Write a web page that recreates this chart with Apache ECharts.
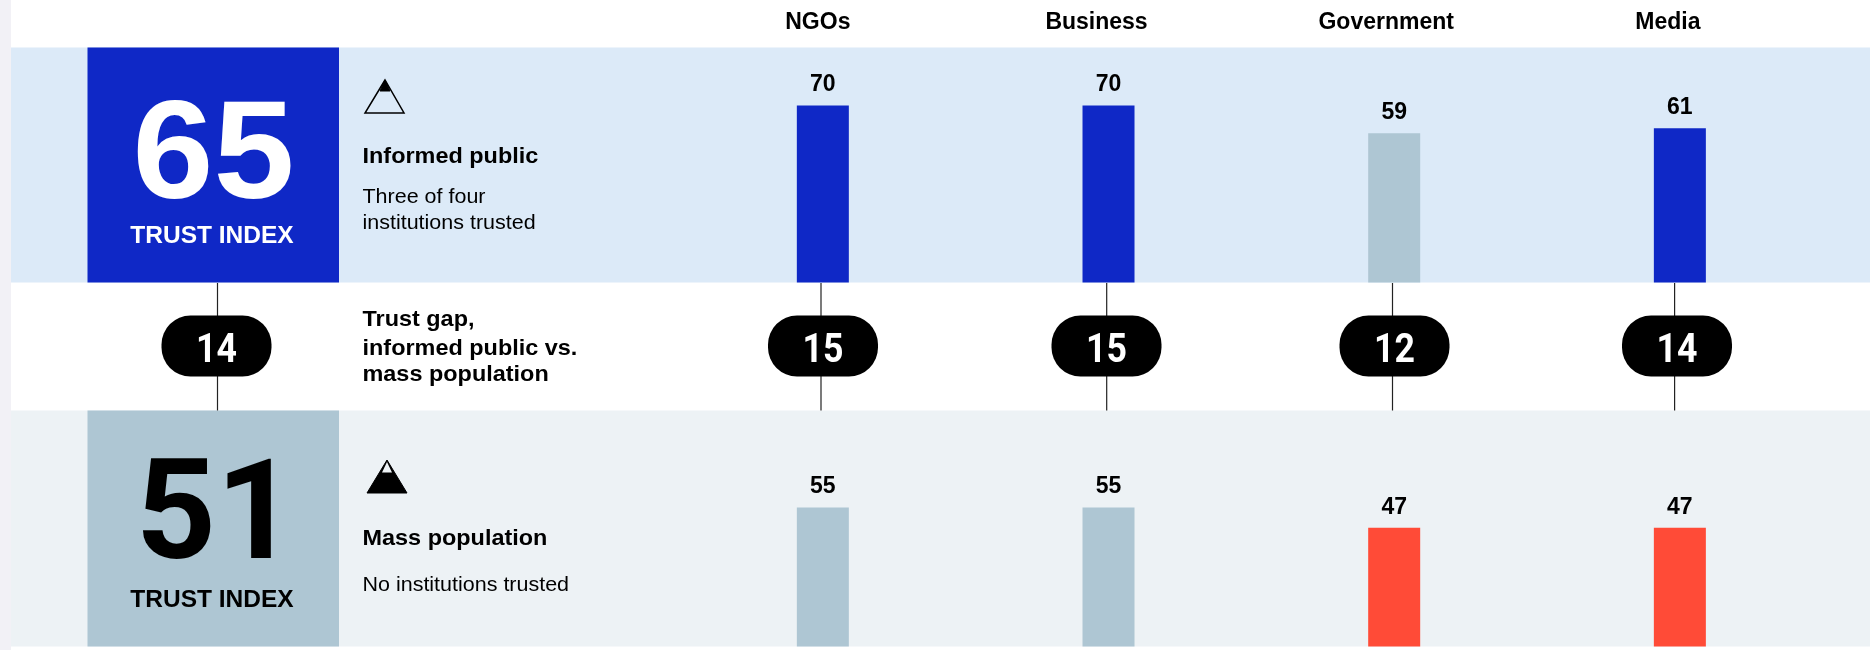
<!DOCTYPE html>
<html>
<head>
<meta charset="utf-8">
<script src="https://cdn.jsdelivr.net/npm/echarts@6/dist/echarts.min.js"></script>
<style>html,body{margin:0;padding:0;background:#fff}#c{width:1870px;height:650px}</style>
</head>
<body>
<div id="c"></div>
<script>
// ---- data ----
const institutions = ['NGOs', 'Business', 'Government', 'Media'];
const informedPublic = [70, 70, 59, 61];
const massPopulation = [55, 55, 47, 47];
const gapLabels = ['14', '15', '15', '12', '14'];
const informedIndex = '65';
const massIndex = '51';
const indexLabel = 'TRUST INDEX';

// ---- layout & style ----
const FONT = '"Liberation Sans", Arial, sans-serif';
const DIGITS = 'Roboto, "Liberation Sans", sans-serif';
const BLUE = '#0f28c6', GREY = '#aec6d3', RED = '#ff4b37';
const colorFor = v => v >= 60 ? BLUE : v >= 50 ? GREY : RED;
const W = 1870, H = 650;
const headerShift = [-5, -12, -8, -12];
const gapPillX = [216.5, 823, 1106.5, 1394.5, 1677];
const gapLineX = [217.5, 821, 1106.7, 1392.5, 1674.6];
const textX = 362.5;

const axisBase = {
  type: 'category', data: institutions, axisLine: {show: false},
  axisTick: {show: false}, axisLabel: {show: false}
};
const valueBase = {
  type: 'value', min: 0, max: 70, splitLine: {show: false},
  axisLine: {show: false}, axisTick: {show: false}, axisLabel: {show: false}
};
const barSeries = (values, idx) => ({
  type: 'bar', xAxisIndex: idx, yAxisIndex: idx, barWidth: 52, silent: true,
  data: values.map(v => ({value: v, itemStyle: {color: colorFor(v)}})),
  label: {show: true, position: 'top', distance: 9, color: '#000',
          fontFamily: FONT, fontWeight: 'bold', fontSize: 23}
});

const headerRich = {};
headerShift.forEach((s, i) => {
  headerRich['h' + i] = {
    fontFamily: FONT, fontWeight: 'bold', fontSize: 23, color: '#000',
    padding: [0, -2 * s, 0, 0]
  };
});

const txt = (x, y, text, size, opts = {}) => ({
  type: 'text', x, y, z: 5, silent: true, scaleX: opts.sx || 1,
  style: {text, fontFamily: opts.font || FONT, fontSize: size, fontWeight: opts.bold ? 'bold' : 'normal',
    fill: opts.fill || '#000', align: opts.align || 'left', verticalAlign: 'middle'}
});
const rect = (x, y, w, h, fill, z = 1) => ({
  type: 'rect', z, silent: true, shape: {x, y, width: w, height: h}, style: {fill}
});
const poly = (points, style) => ({type: 'polygon', z: 5, silent: true, shape: {points}, style});

const graphics = [
  rect(0, 0, 11, H, '#f2f1f6'),
  rect(11, 47.5, W - 11, 235, '#dceaf8'),
  rect(11, 410.5, W - 11, 236, '#edf2f5'),
  rect(87.5, 47.5, 251.5, 235, BLUE, 2),
  rect(87.5, 410.5, 251.5, 236, GREY, 2),
  txt(213.5, 159.5, informedIndex, 140, {bold: true, fill: '#fff', align: 'center', sx: 1.04}),
  txt(212, 236, indexLabel, 24.5, {bold: true, fill: '#fff', align: 'center'}),
  txt(216, 523, massIndex, 140, {bold: true, align: 'center', font: DIGITS}),
  txt(212, 600, indexLabel, 24.5, {bold: true, align: 'center'}),
  poly([[385, 80], [365, 113], [404, 113]], {fill: 'none', stroke: '#000', lineWidth: 1.5}),
  poly([[385, 80], [380, 91], [390, 91]], {fill: '#000', stroke: '#000', lineWidth: 1}),
  poly([[387, 460], [367, 493], [407, 493]], {fill: '#000', stroke: '#000', lineWidth: 1}),
  poly([[387, 462], [382, 472.5], [392, 472.5]], {fill: '#edf2f5', stroke: 'none'}),
  txt(textX, 157.5, 'Informed public', 21.5, {bold: true, sx: 1.09}),
  txt(textX, 197, 'Three of four', 20, {sx: 1.074}),
  txt(textX, 223, 'institutions trusted', 20, {sx: 1.074}),
  txt(textX, 320, 'Trust gap,', 21.5, {bold: true, sx: 1.09}),
  txt(textX, 349, 'informed public vs.', 21.5, {bold: true, sx: 1.09}),
  txt(textX, 375, 'mass population', 21.5, {bold: true, sx: 1.09}),
  txt(textX, 539.5, 'Mass population', 21.5, {bold: true, sx: 1.09}),
  txt(textX, 585, 'No institutions trusted', 20, {sx: 1.074})
];

const chart = echarts.init(document.getElementById('c'), null, {renderer: 'canvas'});
chart.setOption({
  animation: false,
  backgroundColor: '#fff',
  grid: [
    {left: 680, width: 1142.7, top: 105.5, height: 177},
    {left: 680, width: 1142.7, top: 469.5, height: 177},
    {left: 0, width: W, top: 0, height: H}
  ],
  xAxis: [
    Object.assign({}, axisBase, {gridIndex: 0, position: 'top', axisLabel: {
      show: true, margin: 71,
      formatter: (name, i) => '{h' + i + '|' + name + '}',
      rich: headerRich
    }}),
    Object.assign({}, axisBase, {gridIndex: 1}),
    {type: 'value', gridIndex: 2, min: 0, max: W, show: false}
  ],
  yAxis: [
    Object.assign({}, valueBase, {gridIndex: 0}),
    Object.assign({}, valueBase, {gridIndex: 1}),
    {type: 'value', gridIndex: 2, min: 0, max: H, inverse: true, show: false}
  ],
  graphic: graphics,
  series: [
    barSeries(informedPublic, 0),
    barSeries(massPopulation, 1),
    {
      type: 'custom', xAxisIndex: 2, yAxisIndex: 2, silent: true, z: 6,
      data: gapLabels.map((g, i) => [gapPillX[i], 346, g, gapLineX[i]]),
      encode: {x: 0, y: 1},
      renderItem: (params, api) => {
        const c = api.coord([api.value(0), api.value(1)]);
        const lx = api.coord([api.value(3), 0])[0];
        const top = api.coord([0, 283])[1], bottom = api.coord([0, 410.5])[1];
        return {type: 'group', children: [
          {type: 'line', shape: {x1: lx, y1: top, x2: lx, y2: bottom},
           style: {stroke: '#222', lineWidth: 1.2}},
          {type: 'rect', shape: {x: c[0] - 55, y: c[1] - 30.5, width: 110, height: 61, r: 29},
           style: {fill: '#000'}},
          {type: 'text', x: c[0], y: c[1] + 6, scaleX: 0.87, style: {
            text: gapLabels[params.dataIndex], fill: '#fff', fontFamily: DIGITS, fontWeight: 'bold',
            fontSize: 41, align: 'center', verticalAlign: 'middle'}}
        ]};
      }
    }
  ]
});
</script>
</body>
</html>
